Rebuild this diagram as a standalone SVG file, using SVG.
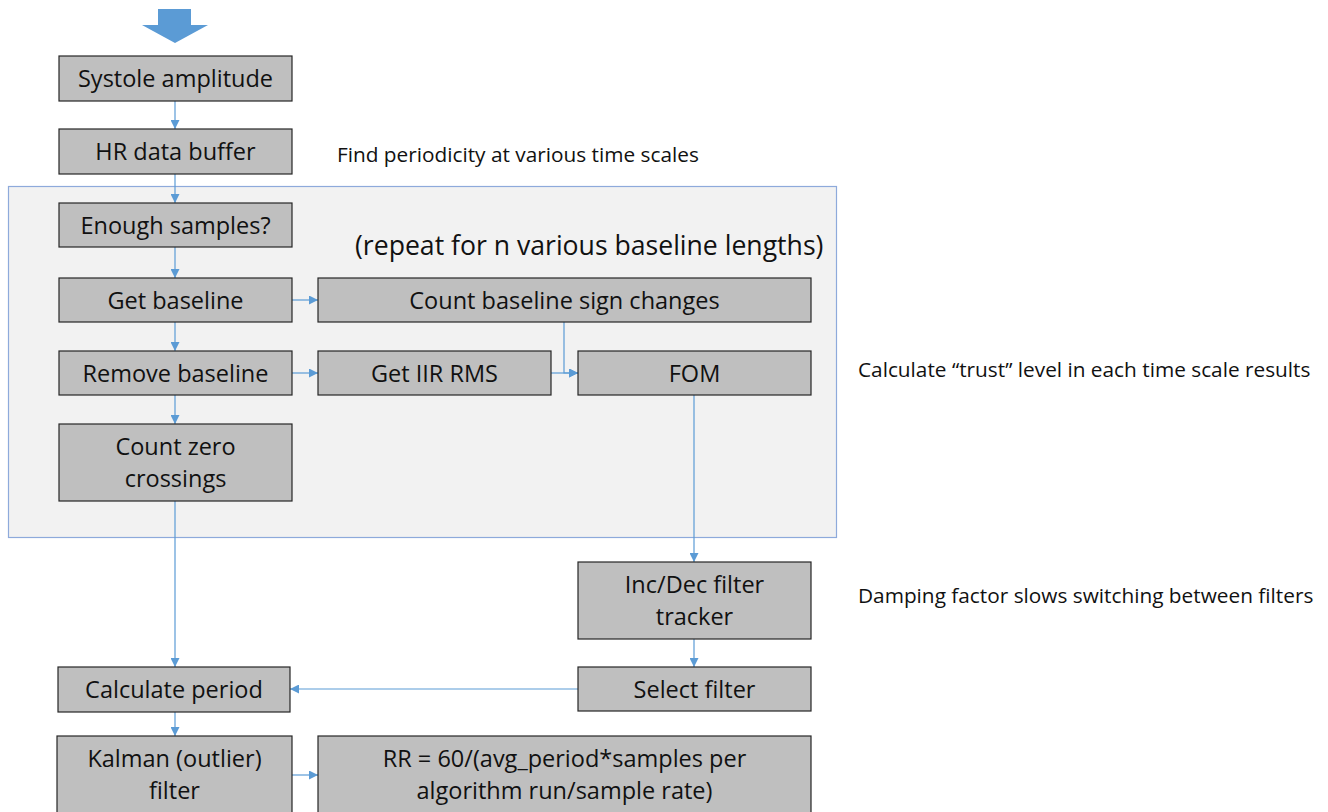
<svg xmlns="http://www.w3.org/2000/svg" width="1328" height="812" viewBox="0 0 1328 812">
<defs>
<style>
.box{fill:#bfbfbf;stroke:#262626;stroke-width:1.2}
.t{font-family:"Open Sans","Liberation Sans",sans-serif;font-size:23.5px;fill:#111;text-anchor:middle}
.n{font-family:"Open Sans","Liberation Sans",sans-serif;font-size:20.8px;fill:#111}
.c{fill:none;stroke:#5b9bd5;stroke-width:1.2;marker-end:url(#ah)}
</style>
<marker id="ah" viewBox="0 0 10 10" refX="10" refY="5" markerWidth="9" markerHeight="9" markerUnits="userSpaceOnUse" orient="auto">
<path d="M0,0 L10,5 L0,10 z" fill="#5b9bd5"/>
</marker>
</defs>
<rect width="1328" height="812" fill="#fff"/>
<g id="input-arrow"><path d="M158,9 H191 V25 H208 L175,43 L142,25 H158 Z" fill="#5b9bd5"/></g>
<g id="container"><rect x="8.5" y="186.5" width="828" height="351" fill="#f2f2f2" stroke="#8eaadb" stroke-width="1.2"/></g>
<g id="notes">
<text class="n" x="337" y="162">Find periodicity at various time scales</text>
<text class="n" x="355" y="255" style="font-size:26.6px">(repeat for n various baseline lengths)</text>
<text class="n" x="858" y="377">Calculate “trust” level in each time scale results</text>
<text class="n" x="858" y="603">Damping factor slows switching between filters</text>
</g>
<g id="connectors">
<line class="c" x1="175" y1="101" x2="175" y2="129"/>
<line class="c" x1="175" y1="174" x2="175" y2="203"/>
<line class="c" x1="175" y1="247" x2="175" y2="278"/>
<line class="c" x1="175" y1="322" x2="175" y2="351"/>
<line class="c" x1="175" y1="395" x2="175" y2="424"/>
<line class="c" x1="292" y1="300" x2="318" y2="300"/>
<line class="c" x1="292" y1="373" x2="318" y2="373"/>
<polyline class="c" points="564,322 564,373 578,373"/>
<line class="c" x1="551" y1="373" x2="578" y2="373"/>
<line class="c" x1="694" y1="395" x2="694" y2="562"/>
<line class="c" x1="175" y1="501" x2="175" y2="667"/>
<line class="c" x1="694" y1="639" x2="694" y2="667"/>
<line class="c" x1="578" y1="689" x2="290" y2="689"/>
<line class="c" x1="175" y1="712" x2="175" y2="736"/>
<line class="c" x1="292" y1="775" x2="318" y2="775"/>
</g>
<g id="systole"><rect class="box" x="59" y="56" width="233" height="45"/><text class="t" x="175.5" y="87">Systole amplitude</text></g>
<g id="hr-buffer"><rect class="box" x="59" y="129" width="233" height="45"/><text class="t" x="175.5" y="160">HR data buffer</text></g>
<g id="enough"><rect class="box" x="59" y="203" width="233" height="44"/><text class="t" x="175.5" y="234">Enough samples?</text></g>
<g id="get-baseline"><rect class="box" x="59" y="278" width="233" height="44"/><text class="t" x="175.5" y="309">Get baseline</text></g>
<g id="count-sign"><rect class="box" x="318" y="278" width="493" height="44"/><text class="t" x="564.5" y="309">Count baseline sign changes</text></g>
<g id="remove-baseline"><rect class="box" x="59" y="351" width="233" height="44"/><text class="t" x="175.5" y="382">Remove baseline</text></g>
<g id="iir-rms"><rect class="box" x="318" y="351" width="233" height="44"/><text class="t" x="434.5" y="382">Get IIR RMS</text></g>
<g id="fom"><rect class="box" x="578" y="351" width="233" height="44"/><text class="t" x="694.5" y="382">FOM</text></g>
<g id="zero-cross"><rect class="box" x="59" y="424" width="233" height="77"/><text class="t" x="175.5" y="455">Count zero</text><text class="t" x="175.5" y="487">crossings</text></g>
<g id="incdec"><rect class="box" x="578" y="562" width="233" height="77"/><text class="t" x="694.5" y="593">Inc/Dec filter</text><text class="t" x="694.5" y="625">tracker</text></g>
<g id="select-filter"><rect class="box" x="578" y="667" width="233" height="44"/><text class="t" x="694.5" y="698">Select filter</text></g>
<g id="calc-period"><rect class="box" x="58" y="667" width="232" height="45"/><text class="t" x="174" y="698">Calculate period</text></g>
<g id="kalman"><rect class="box" x="57" y="736" width="235" height="90"/><text class="t" x="174.5" y="767">Kalman (outlier)</text><text class="t" x="174.5" y="799">filter</text></g>
<g id="rr"><rect class="box" x="318" y="736" width="493" height="90"/><text class="t" x="564.5" y="767">RR = 60/(avg_period*samples per</text><text class="t" x="564.5" y="799">algorithm run/sample rate)</text></g>
</svg>
